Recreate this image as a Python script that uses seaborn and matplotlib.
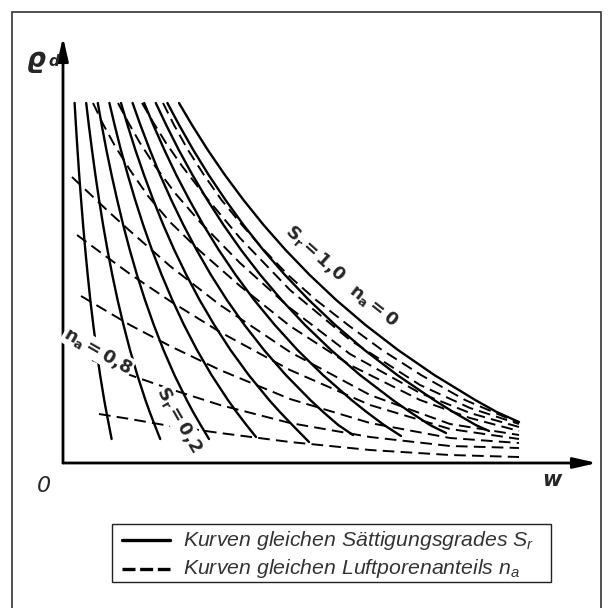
import numpy as np
import pandas as pd
import matplotlib
matplotlib.use("Agg")
import matplotlib.pyplot as plt
import seaborn as sns
from matplotlib import font_manager as fm
from matplotlib.lines import Line2D
from matplotlib.patches import Rectangle

# ---------------- data (schematic units) ----------------
# common rho_d levels used for the Sr curves (top -> bottom)
rho_levels = [36.0, 33.8, 31.3, 28.8, 26.3, 23.8, 21.3, 18.8, 16.3, 13.8, 11.3, 8.8, 6.3, 5.1, 3.8]

sr_labels = ["0.1", "0.2", "0.3", "0.4", "0.5", "0.6", "0.7", "0.8", "0.9", "1.0"]
sr_01_w = [1.16, 1.29, 1.45, 1.62, 1.81, 2.01, 2.23, 2.47, 2.73, 3.03, 3.35, 3.71, 4.12, 4.34, 4.59]
sr_02_w = [2.32, 2.58, 2.90, 3.24, 3.61, 4.01, 4.45, 4.93, 5.46, 6.05, 6.70, 7.43, 8.24, 8.67, 9.17]
sr_03_w = [3.48, 3.87, 4.34, 4.86, 5.42, 6.02, 6.68, 7.40, 8.20, 9.08, 10.05, 11.14, 12.37, 13.01, 13.76]
sr_04_w = [4.64, 5.16, 5.79, 6.48, 7.22, 8.02, 8.90, 9.87, 10.93, 12.10, 13.40, 14.85, 16.49, 17.35, 18.34]
sr_05_w = [5.80, 6.45, 7.24, 8.10, 9.03, 10.03, 11.13, 12.34, 13.66, 15.13, 16.75, 18.57, 20.61, 21.69, 22.93]
sr_06_w = [6.96, 7.74, 8.69, 9.71, 10.83, 12.04, 13.36, 14.80, 16.39, 18.15, 20.10, 22.28, 24.73, 26.02, 27.52]
sr_07_w = [8.12, 9.03, 10.14, 11.33, 12.64, 14.04, 15.58, 17.27, 19.12, 21.18, 23.45, 25.99, 28.85, 30.36, 32.10]
sr_08_w = [9.28, 10.32, 11.58, 12.95, 14.44, 16.05, 17.81, 19.74, 21.86, 24.20, 26.80, 29.70, 32.98, 34.70, 36.69]
sr_09_w = [10.44, 11.61, 13.03, 14.57, 16.25, 18.05, 20.03, 22.20, 24.59, 27.23, 30.15, 33.42, 37.10, 39.03, 41.27]
sr_10_w = [11.60, 12.90, 14.48, 16.19, 18.05, 20.06, 22.26, 24.67, 27.32, 30.25, 33.50, 37.13, 41.22, 43.37]
sr_end_w = [4.86, 9.72, 14.60, 19.30, 24.60, 29.00, 33.80, 38.30, 42.60, 45.60]
sr_end_rho = [2.4, 2.4, 2.4, 2.6, 2.1, 2.8, 2.7, 3.0, 3.2, 4.1]

na_d1_w = [10.0, 11.1, 12.5, 14.1, 15.85, 17.9, 20.1, 22.5, 25.3, 28.5, 31.9, 35.8, 40.2, 45.6]
na_d1_rho = [36.0, 33.8, 31.3, 28.8, 26.3, 23.8, 21.3, 18.8, 16.3, 13.8, 11.3, 8.8, 6.3, 4.0]
na_d2_w = [7.9, 9.0, 10.3, 11.9, 14.2, 17.7, 22.7, 28.7, 35.7, 40.7, 45.6]
na_d2_rho = [36.0, 34.1, 32.0, 29.7, 26.7, 22.5, 17.3, 12.3, 7.8, 5.5, 3.9]
na_d3_w = [5.5, 6.5, 7.7, 9.2, 11.2, 13.7, 17.7, 22.7, 28.7, 35.7, 40.7, 45.6]
na_d3_rho = [36.0, 34.1, 32.0, 29.7, 27.0, 24.1, 20.0, 15.5, 10.9, 7.0, 5.0, 3.6]
na_d4_w = [3.0, 4.0, 5.2, 6.7, 8.5, 10.7, 13.7, 17.7, 22.7, 28.7, 35.7, 40.7, 45.6]
na_d4_rho = [36.0, 33.9, 31.7, 29.3, 26.7, 24.1, 21.2, 17.7, 13.7, 9.8, 6.3, 4.5, 3.2]
na_d5_w = [0.9, 2.7, 4.7, 6.7, 10.7, 15.7, 22.7, 30.7, 38.7, 45.6]
na_d5_rho = [28.6, 26.9, 25.0, 23.2, 19.7, 15.8, 11.1, 6.8, 3.9, 2.8]
na_d6_w = [1.4, 3.7, 6.7, 10.7, 15.7, 22.7, 30.7, 38.7, 45.6]
na_d6_rho = [22.8, 21.1, 18.9, 16.2, 13.1, 9.3, 5.8, 3.4, 2.4]
na_d7_w = [1.8, 6.7, 10.7, 15.7, 22.7, 30.7, 38.7, 45.6]
na_d7_rho = [16.7, 13.8, 11.7, 9.3, 6.4, 4.0, 2.5, 2.0]
na_d8_w = [2.9, 6.7, 10.7, 15.7, 22.7, 30.7, 38.7, 45.6]
na_d8_rho = [10.3, 8.8, 7.4, 5.8, 4.0, 2.6, 1.7, 1.5]
na_d9_w = [3.6, 6.7, 10.7, 15.7, 22.7, 30.7, 38.7, 45.6]
na_d9_rho = [4.9, 4.4, 3.7, 3.0, 2.1, 1.3, 0.8, 0.6]

legend_texts = ["Kurven gleichen Sättigungsgrades $S_r$",
                "Kurven gleichen Luftporenanteils $n_a$"]

# ---------------- build tables ----------------
sr_ws = [sr_01_w, sr_02_w, sr_03_w, sr_04_w, sr_05_w,
         sr_06_w, sr_07_w, sr_08_w, sr_09_w, sr_10_w]
rows = []
for i, ws in enumerate(sr_ws):
    for w, r in zip(ws, rho_levels[:len(ws)]):
        rows.append((sr_labels[i], w, r))
    rows.append((sr_labels[i], sr_end_w[i], sr_end_rho[i]))
df_sr = pd.DataFrame(rows, columns=["curve", "w", "rho"])

na_pairs = [(na_d1_w, na_d1_rho), (na_d2_w, na_d2_rho), (na_d3_w, na_d3_rho),
            (na_d4_w, na_d4_rho), (na_d5_w, na_d5_rho), (na_d6_w, na_d6_rho),
            (na_d7_w, na_d7_rho), (na_d8_w, na_d8_rho), (na_d9_w, na_d9_rho)]
rows = []
for i, (ws, rs) in enumerate(na_pairs):
    for w, r in zip(ws, rs):
        rows.append((f"D{i+1}", w, r))
df_na = pd.DataFrame(rows, columns=["curve", "w", "rho"])

# ---------------- fonts ----------------
sns.set_theme(style="white")
names = {f.name for f in fm.fontManager.ttflist}
def pick(cands):
    for c in cands:
        if c in names:
            return c
    return "DejaVu Sans"
lab_font = pick(["Liberation Sans Narrow", "DejaVu Sans"])
leg_font = pick(["Liberation Sans", "Arial", "DejaVu Sans"])
plt.rcParams["font.family"] = [lab_font, "DejaVu Sans"]
plt.rcParams["mathtext.fontset"] = "custom"
plt.rcParams["mathtext.it"] = leg_font + ":italic"
plt.rcParams["mathtext.rm"] = leg_font

W, H = 612, 608
fig = plt.figure(figsize=(W / 100, H / 100), dpi=100)
fig.patch.set_facecolor("white")

def fx(px):
    return px / W
def fy(py):
    return 1 - py / H

ax_l, ax_r, ax_t, ax_b = 63, 597, 37, 463
ax = fig.add_axes([fx(ax_l), fy(ax_b), (ax_r - ax_l) / W, (ax_b - ax_t) / H])
ax.set_xlim(0, (ax_r - ax_l) / 10)
ax.set_ylim(0, (ax_b - ax_t) / 10)
ax.set_facecolor("white")
for s in ax.spines.values():
    s.set_visible(False)

sns.lineplot(data=df_sr, x="w", y="rho", units="curve", estimator=None, sort=False,
             color="black", lw=1.7, ax=ax, legend=False)
sns.lineplot(data=df_na, x="w", y="rho", units="curve", estimator=None, sort=False,
             color="black", lw=1.4, linestyle=(0, (6, 3.2)), ax=ax, legend=False)
ax.set_xticks([])
ax.set_yticks([])
ax.set_xlabel("")
ax.set_ylabel("")

# axes with arrows
xmax, ymax = (ax_r - ax_l) / 10, (ax_b - ax_t) / 10
ap = dict(arrowstyle="-|>,head_length=1.4,head_width=0.32", color="black",
          lw=2.0, shrinkA=0, shrinkB=0, mutation_scale=10)
ax.annotate("", xy=(xmax, 0), xytext=(0, 0), arrowprops=ap, annotation_clip=False)
ax.annotate("", xy=(0, ymax), xytext=(0, 0), arrowprops=ap, annotation_clip=False)

# curve labels
bb = dict(boxstyle="square,pad=0.05", fc="white", ec="none")
lab_kw = dict(ha="center", va="center", fontsize=13, fontweight="bold",
              rotation_mode="anchor")
ax.text(25.2, 21.0, r"$\mathregular{S_r =1{,}0}$", rotation=-42, **lab_kw)
ax.text(31.0, 15.7, r"$\mathregular{n_a =0}$", rotation=-38, **lab_kw)
ax.text(3.5, 11.2, r"$\mathregular{n_a =0{,}8}$", rotation=-30, bbox=bb, **lab_kw)
ax.text(11.6, 4.3, r"$\mathregular{S_r =0{,}2}$", rotation=-60, bbox=bb, **lab_kw)

# axis symbols
fig.text(fx(36), fy(60), "ϱ", fontsize=19, fontweight="bold", style="italic",
         ha="center", va="center", family="DejaVu Sans")
fig.text(fx(54), fy(62), "d", fontsize=11, fontweight="bold", style="italic",
         ha="center", va="center", family="DejaVu Sans")
fig.text(fx(44), fy(486), "0", fontsize=16, style="italic", ha="center", va="center")
fig.text(fx(552), fy(480), "w", fontsize=15, fontweight="bold", style="italic",
         ha="center", va="center")

# legend box
fig.patches.append(Rectangle((fx(112), fy(582)), (551 - 112) / W, (582 - 524) / H,
                             transform=fig.transFigure, fc="white", ec="#222222",
                             lw=1.0, zorder=5))
fig.lines.append(Line2D([fx(122), fx(170)], [fy(540), fy(540)], transform=fig.transFigure,
                        color="black", lw=2.4, zorder=6))
fig.lines.append(Line2D([fx(122), fx(170)], [fy(569), fy(569)], transform=fig.transFigure,
                        color="black", lw=2.4, linestyle=(0, (3.9, 1.4)), zorder=6))
for txt, py in zip(legend_texts, [540, 569]):
    fig.text(fx(183), fy(py), txt, fontsize=15.3, style="italic", color="#333333",
             family=leg_font, ha="left", va="center", zorder=7)

# outer frame
fig.patches.append(Rectangle((fx(12), fy(612)), (601 - 12) / W, (612 - 12) / H,
                             transform=fig.transFigure, fc="none", ec="#333333",
                             lw=1.2, zorder=10))

fig.savefig("out.png", dpi=100)
